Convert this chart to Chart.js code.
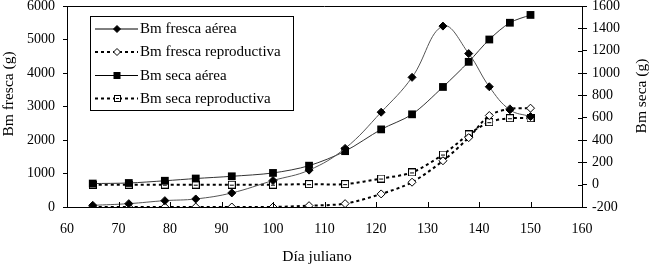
<!DOCTYPE html>
<html>
<head>
<meta charset="utf-8">
<script src="https://cdn.jsdelivr.net/npm/chart.js@4/dist/chart.umd.min.js"></script>
<style>
  body { margin: 0; background: #fff; }
  #wrap { width: 652px; height: 267px; }
</style>
</head>
<body>
<div id="wrap"><canvas id="chart" width="652" height="267"></canvas></div>
<script>
// Datos
const dias = [65, 72, 79, 85, 92, 100, 107, 114, 121, 127, 133, 138, 142, 146, 150];
const frescaAerea = [50, 100, 190, 240, 420, 790, 1100, 1750, 2830, 3870, 5400, 4580, 3590, 2900, 2700];
const frescaReproductiva = [0, 0, 0, 0, 0, 0, 40, 100, 390, 740, 1380, 2070, 2730, 2930, 2950];
const secaAerea = [10, 15, 35, 55, 75, 105, 170, 300, 495, 630, 875, 1100, 1300, 1450, 1520];
const secaReproductiva = [0, 0, 0, 0, 0, 0, 5, 5, 55, 110, 270, 450, 560, 595, 595];

const etiquetas = ['Bm fresca aérea', 'Bm fresca reproductiva', 'Bm seca aérea', 'Bm seca reproductiva'];
const tituloX = 'Día juliano';
const tituloY = 'Bm fresca (g)';
const tituloY1 = 'Bm seca (g)';

const FONT = "'Liberation Serif', 'Times New Roman', serif";

const toXY = vals => dias.map((d, i) => ({ x: d, y: vals[i] }));

// marcador: cuadrado blanco con raya
function boxMarker(size) {
  const c = document.createElement('canvas');
  c.width = size; c.height = size;
  const g = c.getContext('2d');
  g.fillStyle = '#fff';
  g.fillRect(0.5, 0.5, size - 1, size - 1);
  g.strokeStyle = '#000';
  g.lineWidth = 1;
  g.strokeRect(0.5, 0.5, size - 1, size - 1);
  g.beginPath();
  g.moveTo(2, Math.floor(size / 2) + 0.5);
  g.lineTo(size - 2, Math.floor(size / 2) + 0.5);
  g.stroke();
  return c;
}
const boxBig = boxMarker(8);
const boxSmall = boxMarker(7);

function line(ctx, x1, y1, x2, y2) {
  ctx.beginPath();
  ctx.moveTo(x1, y1);
  ctx.lineTo(x2, y2);
  ctx.stroke();
}

function legendMarker(ctx, kind, x, y) {
  ctx.save();
  ctx.strokeStyle = '#000';
  ctx.lineWidth = 1;
  ctx.setLineDash([]);
  if (kind === 0 || kind === 1) {
    const r = 3.5;
    ctx.beginPath();
    ctx.moveTo(x, y - r); ctx.lineTo(x + r, y); ctx.lineTo(x, y + r); ctx.lineTo(x - r, y); ctx.closePath();
    ctx.fillStyle = kind === 0 ? '#000' : '#fff';
    ctx.fill(); ctx.stroke();
  } else if (kind === 2) {
    ctx.fillStyle = '#000';
    ctx.fillRect(x - 3.5, y - 3.5, 7, 7);
  } else {
    ctx.drawImage(boxSmall, Math.round(x - 3.5), Math.round(y - 3.5));
  }
  ctx.restore();
}

const decor = {
  id: 'decor',
  afterDatasetsDraw(chart) {
    const { ctx, chartArea: a, scales } = chart;
    ctx.save();
    ctx.strokeStyle = '#000';
    ctx.lineWidth = 1;

    // borde superior
    line(ctx, a.left, a.top + 0.5, a.right, a.top + 0.5);

    // marcas hacia dentro en el eje x
    scales.x.ticks.forEach(t => {
      const px = Math.round(scales.x.getPixelForValue(t.value)) + 0.5;
      line(ctx, px, a.bottom, px, a.bottom - 5);
    });
    // marcas hacia dentro en el eje derecho
    scales.y1.ticks.forEach(t => {
      const py = Math.round(scales.y1.getPixelForValue(t.value)) + 0.5;
      line(ctx, a.right - 4, py, a.right, py);
    });

    // titulos de ejes
    ctx.fillStyle = '#000';
    ctx.font = '15.5px ' + FONT;
    ctx.textAlign = 'center';
    ctx.textBaseline = 'middle';
    ctx.fillText(tituloX, 317, 257);

    ctx.save();
    ctx.translate(9, 94);
    ctx.rotate(-Math.PI / 2);
    ctx.fillText(tituloY, 0, 0);
    ctx.restore();

    ctx.save();
    ctx.translate(642, 96);
    ctx.rotate(-Math.PI / 2);
    ctx.fillText(tituloY1, 0, 0);
    ctx.restore();

    // leyenda
    const lx = 90.5, ly = 16.5, lw = 203, lh = 94;
    ctx.fillStyle = '#fff';
    ctx.fillRect(lx, ly, lw, lh);
    ctx.strokeStyle = '#000';
    ctx.strokeRect(lx, ly, lw, lh);

    ctx.font = '15px ' + FONT;
    const rows = [29, 52, 75.5, 98.5];
    chart.data.datasets.forEach((ds, i) => {
      const y = rows[i];
      ctx.save();
      ctx.lineWidth = ds.borderWidth;
      ctx.strokeStyle = '#000';
      ctx.setLineDash(ds.borderDash || []);
      line(ctx, 95, y, 138, y);
      ctx.restore();
      legendMarker(ctx, i, 117, y);
      ctx.fillStyle = '#000';
      ctx.textAlign = 'left';
      ctx.textBaseline = 'middle';
      ctx.fillText(ds.label, 140, y + 0.5);
    });

    ctx.restore();
  }
};

const tickFont = { family: FONT, size: 14 };
const plain = v => String(v);

new Chart(document.getElementById('chart'), {
  type: 'line',
  data: {
    datasets: [
      {
        label: etiquetas[0],
        data: toXY(frescaAerea),
        yAxisID: 'y',
        borderColor: '#555',
        borderWidth: 1,
        tension: 0.4,
        pointStyle: 'rectRot',
        pointRadius: 4,
        pointBackgroundColor: '#000',
        pointBorderColor: '#000',
        pointBorderWidth: 1
      },
      {
        label: etiquetas[1],
        data: toXY(frescaReproductiva),
        yAxisID: 'y',
        borderColor: '#000',
        borderWidth: 2,
        borderDash: [3, 3],
        tension: 0.3,
        pointStyle: 'rectRot',
        pointRadius: 4,
        pointBackgroundColor: '#fff',
        pointBorderColor: '#000',
        pointBorderWidth: 1
      },
      {
        label: etiquetas[2],
        data: toXY(secaAerea),
        yAxisID: 'y1',
        borderColor: '#333',
        borderWidth: 1,
        tension: 0.3,
        pointStyle: 'rect',
        pointRadius: 5.5,
        pointBackgroundColor: '#000',
        pointBorderColor: '#000',
        pointBorderWidth: 0
      },
      {
        label: etiquetas[3],
        data: toXY(secaReproductiva),
        yAxisID: 'y1',
        borderColor: '#000',
        borderWidth: 2,
        borderDash: [3, 3],
        tension: 0.3,
        pointStyle: boxBig,
        pointRadius: 4
      }
    ]
  },
  options: {
    responsive: false,
    animation: false,
    devicePixelRatio: 1,
    layout: { padding: { top: 5, left: 0, right: 0, bottom: 0 } },
    plugins: {
      legend: { display: false },
      tooltip: { enabled: false }
    },
    scales: {
      x: {
        type: 'linear',
        min: 60,
        max: 160,
        ticks: { stepSize: 10, color: '#000', font: tickFont, padding: 14, callback: plain },
        grid: { drawOnChartArea: false, drawTicks: false },
        border: { display: true, color: '#000', width: 1 },
        afterFit(s) { s.height = 60; s.paddingLeft = 0; s.paddingRight = 0; }
      },
      y: {
        position: 'left',
        min: 0,
        max: 6000,
        ticks: { stepSize: 1000, color: '#000', font: tickFont, padding: 8, callback: plain },
        grid: { drawOnChartArea: false, drawTicks: true, tickLength: 4, color: '#000' },
        border: { display: true, color: '#000', width: 1 },
        afterFit(s) { s.width = 67; s.paddingTop = 0; s.paddingBottom = 0; }
      },
      y1: {
        position: 'right',
        min: -200,
        max: 1600,
        ticks: { stepSize: 200, color: '#000', font: tickFont, padding: 5, callback: plain },
        grid: { drawOnChartArea: false, drawTicks: true, tickLength: 5, color: '#000' },
        border: { display: true, color: '#000', width: 1 },
        afterFit(s) { s.width = 70; s.paddingTop = 0; s.paddingBottom = 0; }
      }
    }
  },
  plugins: [decor]
});
</script>
</body>
</html>
